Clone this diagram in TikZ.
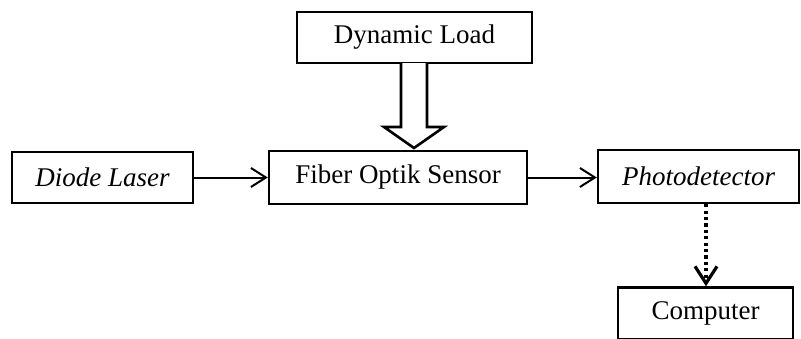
\documentclass[tikz,border=0pt]{standalone}
\usepackage{fontspec}
\setmainfont{Liberation Serif}
\usetikzlibrary{arrows.meta,calc}
\tikzset{
  blk/.style={draw, line width=2.4pt, inner sep=0pt, font=\fontsize{27}{32}\selectfont},
  conn/.style={line width=2pt, -{Straight Barb[length=15pt,width=19pt,line width=2pt]}},
  dotconn/.style={line width=3.2pt, dash pattern=on 3.2pt off 3.2pt, -{Straight Barb[length=17pt,width=22pt,line width=3.2pt]}},
  hollow/.style={draw, line width=2.6pt, fill=white, line join=miter}
}
\begin{document}
\begin{tikzpicture}[x=1pt,y=-1pt]
\useasboundingbox (0,0) rectangle (801,338);
\clip (0,0) rectangle (801,338);
\node[blk, minimum width=235pt, minimum height=51pt] (load) at (414.5,37.5) {Dynamic Load};
\node[blk, minimum width=181pt, minimum height=51pt] (diode) at (102.5,177.5) {\itshape Diode Laser};
\node[blk, minimum width=258pt, minimum height=53pt] (fos) at (398,177.5) {Fiber Optik Sensor};
\node[blk, minimum width=201pt, minimum height=53pt] (photo) at (698.5,176.5) {\itshape Photodetector};
\node[blk, minimum width=175pt, minimum height=52pt] (comp) at (705.5,313.5) {Computer};
% hollow arrow
\coordinate (ht) at (414,63);
\coordinate (tip) at (414,148);
\draw[hollow] ($(ht)+(-13,0)$) -- ($(ht)+(-13,64)$) -- ($(ht)+(-30,64)$) -- (tip)
  -- ($(ht)+(30,64)$) -- ($(ht)+(13,64)$) -- ($(ht)+(13,0)$);
% connectors
\draw[conn] (diode.east |- 0,177.5) -- (fos.west |- 0,177.5);
\draw[conn] (fos.east |- 0,177.5) -- (photo.west |- 0,177.5);
\draw[dotconn] (photo.south -| 706,0) -- (comp.north -| 706,0);
\end{tikzpicture}
\end{document}
